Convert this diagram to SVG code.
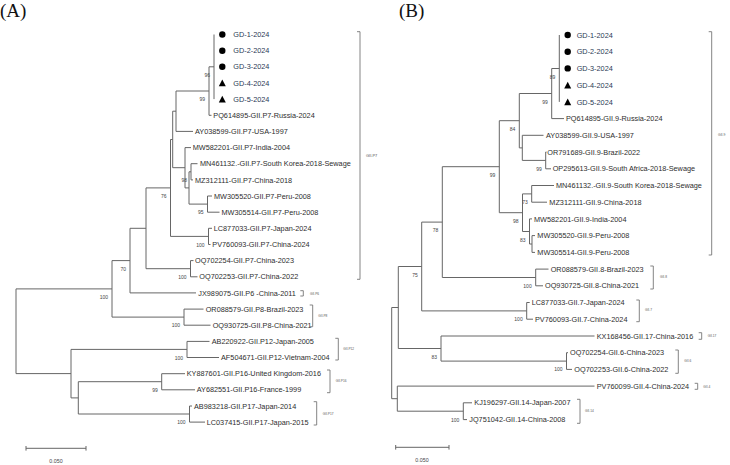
<svg xmlns="http://www.w3.org/2000/svg" width="730" height="465" viewBox="0 0 730 465">
<style>
.bg{fill:#fff}
.br{fill:none;stroke:#666;stroke-width:1}
.bk{fill:none;stroke:#777;stroke-width:0.9}
.tip{font-family:"Liberation Sans",Arial,sans-serif;font-size:7.3px;fill:#2e2e2e}
.gd{fill:#2b3a55}
.bs{font-family:"Liberation Sans",Arial,sans-serif;font-size:5px;fill:#444;text-anchor:end}
.cl{font-family:"Liberation Sans",Arial,sans-serif;font-size:3.2px;fill:#555}
.pl{font-family:"Liberation Serif","Times New Roman",serif;font-size:19px;fill:#111}
.sc{font-family:"Liberation Sans",Arial,sans-serif;font-size:5.3px;fill:#444;text-anchor:middle}
.mk{fill:#000}
</style>
<rect class="bg" x="0" y="0" width="730" height="465"/>
<text class="pl" x="0" y="16.5">(A)</text>
<text class="pl" x="399" y="16.5">(B)</text>

<g id="connectors">
<!-- Panel A -->
<path class="br" d="M214 34.5V99.1"/>
<path class="br" d="M209 66.8V115.3M209 66.8H214M209 115.3H211.5"/>
<path class="br" d="M176 91V131.4M176 91H209M176 131.4H193"/>
<path class="br" d="M191 163.7V179.9M191 163.7H197.5M191 179.9H193"/>
<path class="br" d="M207.5 196V212.2M207.5 196H212M207.5 212.2H219.5"/>
<path class="br" d="M189 171.8V204.1M189 171.8H191M189 204.1H207.5"/>
<path class="br" d="M185 147.6V187.9M185 147.6H191M185 187.9H189"/>
<path class="br" d="M172.7 111.2V167.7M172.7 111.2H176M172.7 167.7H185"/>
<path class="br" d="M208.5 228.3V244.5M208.5 228.3H212M208.5 244.5H210.5"/>
<path class="br" d="M170.5 139.5V236.4M170.5 139.5H172.7M170.5 236.4H208.5"/>
<path class="br" d="M190.5 260.6V276.8M190.5 260.6H193.5M190.5 276.8H197.5"/>
<path class="br" d="M146 187.9V268.7M146 187.9H170.5M146 268.7H190.5"/>
<path class="br" d="M130 228.3V292.9M130 228.3H146M130 292.9H196"/>
<path class="br" d="M184 309.1V325.2M184 309.1H203.5M184 325.2H210.5"/>
<path class="br" d="M112 260.6V317.1M112 260.6H130M112 317.1H184"/>
<path class="br" d="M187 341.4V357.5M187 341.4H209.5M187 357.5H219"/>
<path class="br" d="M161.7 373.7V389.8M161.7 373.7H185M161.7 389.8H195"/>
<path class="br" d="M189.5 406V422.1M189.5 406H192M189.5 422.1H205"/>
<path class="br" d="M78.3 381.7V414M78.3 381.7H161.7M78.3 414H189.5"/>
<path class="br" d="M71 349.4V397.9M71 349.4H187M71 397.9H78.3"/>
<path class="br" d="M16 288.9V373.6M16 288.9H112M16 373.6H71"/>
<!-- Panel B -->
<path class="br" d="M559.3 35V101.9"/>
<path class="br" d="M551.7 68.5V118.6M551.7 68.5H559.3M551.7 118.6H564"/>
<path class="br" d="M545.7 152V168.8M545.7 152H546.5M545.7 168.8H551"/>
<path class="br" d="M522.3 135.3V160.4M522.3 135.3H543.5M522.3 160.4H545.7"/>
<path class="br" d="M519.3 93.5V147.9M519.3 93.5H551.7M519.3 147.9H522.3"/>
<path class="br" d="M531.7 185.5V202.2M531.7 185.5H554M531.7 202.2H547"/>
<path class="br" d="M532 235.6V252.4M532 235.6H535M532 252.4H535"/>
<path class="br" d="M529.5 218.9V244M529.5 218.9H532M529.5 244H532"/>
<path class="br" d="M522.5 193.9V231.5M522.5 193.9H531.7M522.5 231.5H529.5"/>
<path class="br" d="M499.3 120.7V212.7M499.3 120.7H519.3M499.3 212.7H522.5"/>
<path class="br" d="M535.7 269.1V285.8M535.7 269.1H548.5M535.7 285.8H543"/>
<path class="br" d="M442.3 166.7V277.5M442.3 166.7H499.3M442.3 277.5H535.7"/>
<path class="br" d="M526.7 302.5V319.2M526.7 302.5H529.7M526.7 319.2H533"/>
<path class="br" d="M421.7 222.1V310.9M421.7 222.1H442.3M421.7 310.9H526.7"/>
<path class="br" d="M566.5 352.7V369.4M566.5 352.7H568M566.5 369.4H572"/>
<path class="br" d="M441 336V361.1M441 336H594.5M441 361.1H566.5"/>
<path class="br" d="M398.3 266.5V348.5M398.3 266.5H421.7M398.3 348.5H441"/>
<path class="br" d="M463.3 402.8V419.6M463.3 402.8H472M463.3 419.6H467"/>
<path class="br" d="M397.3 386.1V411.2M397.3 386.1H594.5M397.3 411.2H463.3"/>
<path class="br" d="M391.7 307.5V398.7M391.7 307.5H398.3M391.7 398.7H397.3"/>
</g>

<!-- Panel A tips -->
<g id="A-GD-1"><circle class="mk" cx="222.3" cy="34.5" r="3.2"/><text class="tip gd" x="233.3" y="37.1">GD-1-2024</text></g>
<g id="A-GD-2"><circle class="mk" cx="222.3" cy="50.7" r="3.2"/><text class="tip gd" x="233.3" y="53.3">GD-2-2024</text></g>
<g id="A-GD-3"><circle class="mk" cx="222.3" cy="66.8" r="3.2"/><text class="tip gd" x="233.3" y="69.4">GD-3-2024</text></g>
<g id="A-GD-4"><polygon class="mk" points="222.3,79.6 225.8,86.3 218.8,86.3"/><text class="tip gd" x="233.3" y="85.6">GD-4-2024</text></g>
<g id="A-GD-5"><polygon class="mk" points="222.3,95.8 225.8,102.5 218.8,102.5"/><text class="tip gd" x="233.3" y="101.7">GD-5-2024</text></g>
<g id="A-PQ614895"><text class="tip" x="213.3" y="117.9">PQ614895-GII.P7-Russia-2024</text></g>
<g id="A-AY038599"><text class="tip" x="195" y="134">AY038599-GII.P7-USA-1997</text></g>
<g id="A-MW582201"><text class="tip" x="192.7" y="150.2">MW582201-GII.P7-India-2004</text></g>
<g id="A-MN461132"><text class="tip" x="200" y="166.3">MN461132.-GII.P7-South Korea-2018-Sewage</text></g>
<g id="A-MZ312111"><text class="tip" x="195" y="182.5">MZ312111-GII.P7-China-2018</text></g>
<g id="A-MW305520"><text class="tip" x="214" y="198.6">MW305520-GII.P7-Peru-2008</text></g>
<g id="A-MW305514"><text class="tip" x="221.5" y="214.8">MW305514-GII.P7-Peru-2008</text></g>
<g id="A-LC877033"><text class="tip" x="213.7" y="230.9">LC877033-GII.P7-Japan-2024</text></g>
<g id="A-PV760093"><text class="tip" x="212.3" y="247.1">PV760093-GII.P7-China-2024</text></g>
<g id="A-OQ702254"><text class="tip" x="195" y="263.2">OQ702254-GII.P7-China-2023</text></g>
<g id="A-OQ702253"><text class="tip" x="199.3" y="279.4">OQ702253-GII.P7-China-2022</text></g>
<g id="A-JX989075"><text class="tip" x="198.3" y="295.5">JX989075-GII.P6 -China-2011</text></g>
<g id="A-OR088579"><text class="tip" x="205.7" y="311.7">OR088579-GII.P8-Brazil-2023</text></g>
<g id="A-OQ930725"><text class="tip" x="212.7" y="327.8">OQ930725-GII.P8-China-2021</text></g>
<g id="A-AB220922"><text class="tip" x="211.7" y="344">AB220922-GII.P12-Japan-2005</text></g>
<g id="A-AF504671"><text class="tip" x="221" y="360.1">AF504671-GII.P12-Vietnam-2004</text></g>
<g id="A-KY887601"><text class="tip" x="186.7" y="376.3">KY887601-GII.P16-United Kingdom-2016</text></g>
<g id="A-AY682551"><text class="tip" x="196.7" y="392.4">AY682551-GII.P16-France-1999</text></g>
<g id="A-AB983218"><text class="tip" x="194" y="408.6">AB983218-GII.P17-Japan-2014</text></g>
<g id="A-LC037415"><text class="tip" x="206.7" y="424.7">LC037415-GII.P17-Japan-2015</text></g>

<!-- Panel A bootstrap nodes -->
<g id="A-n96"><text class="bs" x="210" y="77.1">96</text></g>
<g id="A-n99"><text class="bs" x="205" y="101.3">99</text></g>
<g id="A-n98"><text class="bs" x="187" y="182.1">98</text></g>
<g id="A-n95"><text class="bs" x="203.5" y="214.4">95</text></g>
<g id="A-n100-LCPV"><text class="bs" x="204.5" y="246.7">100</text></g>
<g id="A-n76"><text class="bs" x="166.5" y="198.2">76</text></g>
<g id="A-n100-OQ"><text class="bs" x="186.5" y="279">100</text></g>
<g id="A-n70"><text class="bs" x="126" y="270.9">70</text></g>
<g id="A-n100-P8"><text class="bs" x="180" y="327.4">100</text></g>
<g id="A-n100-root"><text class="bs" x="108" y="299.2">100</text></g>
<g id="A-n100-P12"><text class="bs" x="183" y="359.7">100</text></g>
<g id="A-n99-P16"><text class="bs" x="157.7" y="392">99</text></g>
<g id="A-n100-P17"><text class="bs" x="185.5" y="424.3">100</text></g>

<!-- Panel A clades -->
<g id="A-clade-P7"><path class="bk" d="M357 31.7H360V279.3H357"/><text class="cl" x="366" y="156.5" style="font-size:4px">GII.P7</text></g>
<g id="A-clade-P6"><path class="bk" d="M300.3 290.7H303.3V296H300.3"/><text class="cl" x="310" y="294.5">GII.P6</text></g>
<g id="A-clade-P8"><path class="bk" d="M309.7 305H312.7V326.7H309.7"/><text class="cl" x="318.3" y="317">GII.P8</text></g>
<g id="A-clade-P12"><path class="bk" d="M335.3 338.3H338.3V360H335.3"/><text class="cl" x="343.3" y="350.2">GII.P12</text></g>
<g id="A-clade-P16"><path class="bk" d="M327 370H330V392.7H327"/><text class="cl" x="335.7" y="382.2">GII.P16</text></g>
<g id="A-clade-P17"><path class="bk" d="M313.7 401.7H316.7V425H313.7"/><text class="cl" x="322.7" y="414.5">GII.P17</text></g>

<g id="A-scale"><path class="br" d="M26 448.3H86M26 446V450.6M86 446V450.6"/><text class="sc" x="56" y="463">0.050</text></g>

<!-- Panel B tips -->
<g id="B-GD-1"><circle class="mk" cx="567.7" cy="35" r="3.2"/><text class="tip gd" x="576.7" y="37.6">GD-1-2024</text></g>
<g id="B-GD-2"><circle class="mk" cx="567.7" cy="51.7" r="3.2"/><text class="tip gd" x="576.7" y="54.3">GD-2-2024</text></g>
<g id="B-GD-3"><circle class="mk" cx="567.7" cy="68.4" r="3.2"/><text class="tip gd" x="576.7" y="71">GD-3-2024</text></g>
<g id="B-GD-4"><polygon class="mk" points="567.7,81.8 571.2,88.5 564.2,88.5"/><text class="tip gd" x="576.7" y="87.8">GD-4-2024</text></g>
<g id="B-GD-5"><polygon class="mk" points="567.7,98.5 571.2,105.2 564.2,105.2"/><text class="tip gd" x="576.7" y="104.5">GD-5-2024</text></g>
<g id="B-PQ614895"><text class="tip" x="566" y="121.2">PQ614895-GII.9-Russia-2024</text></g>
<g id="B-AY038599"><text class="tip" x="546" y="137.9">AY038599-GII.9-USA-1997</text></g>
<g id="B-OR791689"><text class="tip" x="547.3" y="154.6">OR791689-GII.9-Brazil-2022</text></g>
<g id="B-OP295613"><text class="tip" x="552.7" y="171.4">OP295613-GII.9-South Africa-2018-Sewage</text></g>
<g id="B-MN461132"><text class="tip" x="556" y="188.1">MN461132.-GII.9-South Korea-2018-Sewage</text></g>
<g id="B-MZ312111"><text class="tip" x="549.3" y="204.8">MZ312111-GII.9-China-2018</text></g>
<g id="B-MW582201"><text class="tip" x="534" y="221.5">MW582201-GII.9-India-2004</text></g>
<g id="B-MW305520"><text class="tip" x="537.3" y="238.2">MW305520-GII.9-Peru-2008</text></g>
<g id="B-MW305514"><text class="tip" x="537.3" y="255">MW305514-GII.9-Peru-2008</text></g>
<g id="B-OR088579"><text class="tip" x="550.7" y="271.7">OR088579-GII.8-Brazil-2023</text></g>
<g id="B-OQ930725"><text class="tip" x="545" y="288.4">OQ930725-GII.8-China-2021</text></g>
<g id="B-LC877033"><text class="tip" x="531.7" y="305.1">LC877033-GII.7-Japan-2024</text></g>
<g id="B-PV760093"><text class="tip" x="535" y="321.8">PV760093-GII.7-China-2024</text></g>
<g id="B-KX168456"><text class="tip" x="596.7" y="338.6">KX168456-GII.17-China-2016</text></g>
<g id="B-OQ702254"><text class="tip" x="570" y="355.3">OQ702254-GII.6-China-2023</text></g>
<g id="B-OQ702253"><text class="tip" x="574.3" y="372">OQ702253-GII.6-China-2022</text></g>
<g id="B-PV760099"><text class="tip" x="596.7" y="388.7">PV760099-GII.4-China-2024</text></g>
<g id="B-KJ196297"><text class="tip" x="474.3" y="405.4">KJ196297-GII.14-Japan-2007</text></g>
<g id="B-JQ751042"><text class="tip" x="469.3" y="422.2">JQ751042-GII.14-China-2008</text></g>

<!-- Panel B bootstrap nodes -->
<g id="B-n89"><text class="bs" x="555.3" y="78.8">89</text></g>
<g id="B-n99-GD"><text class="bs" x="547.7" y="103.8">99</text></g>
<g id="B-n99-OROP"><text class="bs" x="541.7" y="170.7">99</text></g>
<g id="B-n84"><text class="bs" x="515.3" y="131">84</text></g>
<g id="B-n73"><text class="bs" x="527.7" y="204.2">73</text></g>
<g id="B-n83-MW"><text class="bs" x="525.5" y="241.8">83</text></g>
<g id="B-n98"><text class="bs" x="518.5" y="223">98</text></g>
<g id="B-n99-big"><text class="bs" x="495.3" y="177">99</text></g>
<g id="B-n100-G8"><text class="bs" x="531.7" y="287.8">100</text></g>
<g id="B-n78"><text class="bs" x="438.3" y="232.4">78</text></g>
<g id="B-n100-G7"><text class="bs" x="522.7" y="321.2">100</text></g>
<g id="B-n75"><text class="bs" x="417.7" y="276.8">75</text></g>
<g id="B-n100-G6"><text class="bs" x="562.5" y="371.4">100</text></g>
<g id="B-n83-G17"><text class="bs" x="437" y="358.8">83</text></g>
<g id="B-n100-G14"><text class="bs" x="459.3" y="421.5">100</text></g>

<!-- Panel B clades -->
<g id="B-clade-9"><path class="bk" d="M708.7 31.7H711.7V255H708.7"/><text class="cl" x="718" y="135.5" style="font-size:3.4px">GII.9</text></g>
<g id="B-clade-8"><path class="bk" d="M650.3 266H653.3V289H650.3"/><text class="cl" x="660" y="278">GII.8</text></g>
<g id="B-clade-7"><path class="bk" d="M636.3 300H639.3V321.7H636.3"/><text class="cl" x="645" y="311.2">GII.7</text></g>
<g id="B-clade-17"><path class="bk" d="M698.7 332.7H701.7V339.3H698.7"/><text class="cl" x="707.7" y="337">GII.17</text></g>
<g id="B-clade-6"><path class="bk" d="M675.3 350H678.3V373.3H675.3"/><text class="cl" x="684.3" y="362">GII.6</text></g>
<g id="B-clade-4"><path class="bk" d="M694.7 383.3H697.7V389.3H694.7"/><text class="cl" x="703.3" y="388">GII.4</text></g>
<g id="B-clade-14"><path class="bk" d="M577 399.3H580V423.3H577"/><text class="cl" x="585" y="411.5">GII.14</text></g>

<g id="B-scale"><path class="br" d="M395.7 447.3H449M395.7 445V449.6M449 445V449.6"/><text class="sc" x="422" y="462">0.050</text></g>
</svg>
